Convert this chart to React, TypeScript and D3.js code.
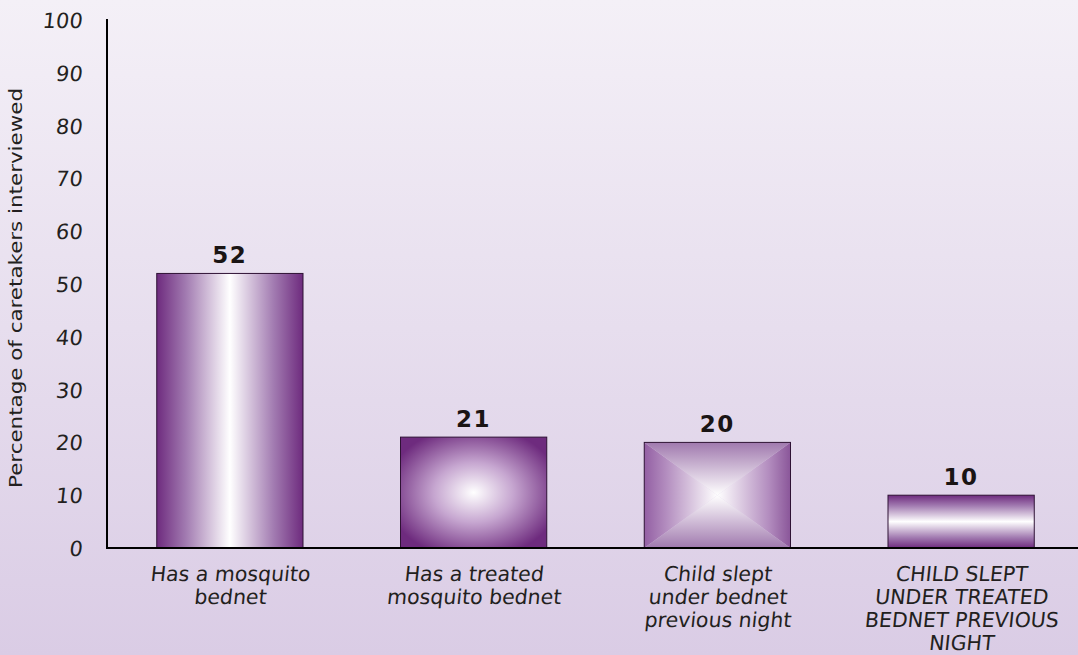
import React from "react";
import * as d3 from "d3";

const categories: string[][] = [
  ["Has a mosquito", "bednet"],
  ["Has a treated", "mosquito bednet"],
  ["Child slept", "under bednet", "previous night"],
  ["CHILD SLEPT", "UNDER TREATED", "BEDNET PREVIOUS", "NIGHT"],
];
const values: number[] = [52, 21, 20, 10];
const yTicks: number[] = [0, 10, 20, 30, 40, 50, 60, 70, 80, 90, 100];
const yTitle = "Percentage of caretakers interviewed";

const W = 1078;
const H = 655;
const M = { left: 107, right: -5, top: 20, bottom: 107 };

export default function App() {
  const x = d3
    .scaleBand<number>()
    .domain(values.map((_, i) => i))
    .range([M.left + 1, W - M.right])
    .paddingInner(0.4)
    .paddingOuter(0.2);
  const y = d3.scaleLinear().domain([0, 100]).range([H - M.bottom, M.top]);
  const font = "'DejaVu Sans', sans-serif";
  const dark = "#6e2b7e";

  const renderBar = (v: number, i: number) => {
    const x0 = x(i)!;
    const w = x.bandwidth();
    const y0 = y(v);
    const h = y(0) - y0;
    const cx = x0 + w / 2;
    const cy = y0 + h / 2;
    if (i === 2) {
      const polys = [
        { pts: [[x0, y0], [x0 + w, y0], [cx, cy]], g: "g3t" },
        { pts: [[x0, y0 + h], [x0 + w, y0 + h], [cx, cy]], g: "g3b" },
        { pts: [[x0, y0], [x0, y0 + h], [cx, cy]], g: "g3l" },
        { pts: [[x0 + w, y0], [x0 + w, y0 + h], [cx, cy]], g: "g3r" },
      ];
      return (
        <g key={i}>
          <defs>
            <linearGradient id="g3t" gradientUnits="userSpaceOnUse" x1={cx} y1={y0} x2={cx} y2={cy}>
              <stop offset="0" stopColor="#a079ae" />
              <stop offset="1" stopColor="#ffffff" />
            </linearGradient>
            <linearGradient id="g3b" gradientUnits="userSpaceOnUse" x1={cx} y1={y0 + h} x2={cx} y2={cy}>
              <stop offset="0" stopColor="#a079ae" />
              <stop offset="1" stopColor="#ffffff" />
            </linearGradient>
            <linearGradient id="g3l" gradientUnits="userSpaceOnUse" x1={x0} y1={cy} x2={cx} y2={cy}>
              <stop offset="0" stopColor="#935fa3" />
              <stop offset="0.3" stopColor="#b38dbf" />
              <stop offset="1" stopColor="#ffffff" />
            </linearGradient>
            <linearGradient id="g3r" gradientUnits="userSpaceOnUse" x1={x0 + w} y1={cy} x2={cx} y2={cy}>
              <stop offset="0" stopColor="#8a5699" />
              <stop offset="0.3" stopColor="#b38dbf" />
              <stop offset="1" stopColor="#ffffff" />
            </linearGradient>
          </defs>
          {polys.map((p, k) => (
            <polygon key={k} points={p.pts.map((q) => q.join(",")).join(" ")} fill={`url(#${p.g})`} />
          ))}
          <rect x={x0} y={y0} width={w} height={h} fill="none" stroke="#2e1234" strokeWidth={1} />
        </g>
      );
    }
    const fill = ["url(#g1)", "url(#g2)", "", "url(#g4)"][i];
    return (
      <rect key={i} x={x0} y={y0} width={w} height={h} fill={fill} stroke="#2e1234" strokeWidth={1} />
    );
  };

  const lineH = 23;

  return (
    <svg width={W} height={H} style={{ position: "absolute", left: 0, top: 0 }}>
      <defs>
        <linearGradient id="bg" x1="0" y1="0" x2="0" y2="1">
          <stop offset="0" stopColor="#f4f0f7" />
          <stop offset="1" stopColor="#dacce5" />
        </linearGradient>
        <linearGradient id="g1" x1="0" y1="0" x2="1" y2="0">
          <stop offset="0" stopColor={dark} />
          <stop offset="0.2" stopColor="#a27bb1" />
          <stop offset="0.5" stopColor="#ffffff" />
          <stop offset="0.8" stopColor="#a27bb1" />
          <stop offset="1" stopColor={dark} />
        </linearGradient>
        <radialGradient id="g2" cx="0.5" cy="0.5" r="0.6">
          <stop offset="0" stopColor="#ffffff" />
          <stop offset="0.45" stopColor="#c6a6d0" />
          <stop offset="1" stopColor={dark} />
        </radialGradient>
        <linearGradient id="g4" x1="0" y1="0" x2="0" y2="1">
          <stop offset="0" stopColor={dark} />
          <stop offset="0.2" stopColor="#a27bb1" />
          <stop offset="0.5" stopColor="#ffffff" />
          <stop offset="0.8" stopColor="#a27bb1" />
          <stop offset="1" stopColor={dark} />
        </linearGradient>
      </defs>
      <rect x={0} y={0} width={W} height={H} fill="url(#bg)" />

      {values.map((v, i) => renderBar(v, i))}

      {values.map((v, i) => (
        <text
          key={"v" + i}
          x={x(i)! + x.bandwidth() / 2}
          y={y(v) - 10}
          textAnchor="middle"
          fontFamily={font}
          fontWeight="bold"
          fontSize={23}
          letterSpacing={1.5}
          fill="#1a1414"
        >
          {v}
        </text>
      ))}

      {/* axes */}
      <line x1={M.left} x2={M.left} y1={y(100) - 1} y2={y(0) + 1} stroke="#000" strokeWidth={2} />
      <line x1={M.left - 1} x2={W} y1={y(0)} y2={y(0)} stroke="#000" strokeWidth={2} />

      {yTicks.map((t) => (
        <text
          key={"t" + t}
          transform={`translate(82, ${y(t) + 8}) skewX(-6)`}
          textAnchor="end"
          fontFamily={font}
          fontSize={21}
          fill="#231f20"
        >
          {t}
        </text>
      ))}

      {categories.map((lines, i) => (
        <g key={"c" + i} transform={`translate(${x(i)! + x.bandwidth() / 2}, 0)`}>
          {lines.map((l, k) => (
            <text
              key={k}
              transform={`translate(0, ${581 + k * lineH}) skewX(-6)`}
              textAnchor="middle"
              fontFamily={font}
              fontSize={20.5}
              fill="#231f20"
            >
              {l}
            </text>
          ))}
        </g>
      ))}

      <text
        transform={`translate(22, ${288}) rotate(-90)`}
        textAnchor="middle"
        fontFamily={font}
        fontSize={18}
        textLength={400}
        lengthAdjust="spacingAndGlyphs"
        fill="#231f20"
      >
        {yTitle}
      </text>
    </svg>
  );
}
